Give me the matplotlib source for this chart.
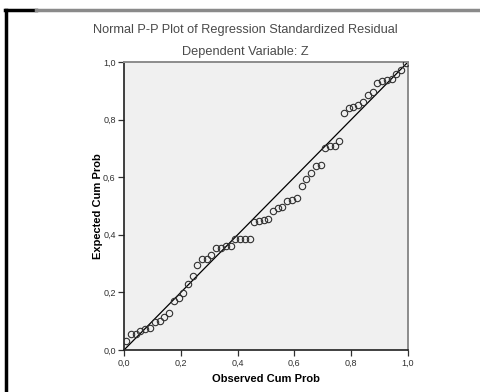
import matplotlib
matplotlib.use("Agg")
import matplotlib.pyplot as plt
from matplotlib.lines import Line2D

# observed cum prob (x) and expected cum prob (y)
obs_prob = [0.008, 0.025, 0.042, 0.058, 0.075, 0.092, 0.108, 0.125, 0.142, 0.158,
            0.175, 0.192, 0.208, 0.225, 0.242, 0.258, 0.275, 0.292, 0.308, 0.325,
            0.342, 0.358, 0.375, 0.392, 0.408, 0.425, 0.442, 0.458, 0.475, 0.492,
            0.508, 0.525, 0.542, 0.558, 0.575, 0.592, 0.608, 0.625, 0.642, 0.658,
            0.675, 0.692, 0.708, 0.725, 0.742, 0.758, 0.775, 0.792, 0.808, 0.825,
            0.842, 0.858, 0.875, 0.892, 0.908, 0.925, 0.942, 0.958, 0.975, 0.992]
exp_prob = [0.032, 0.057, 0.057, 0.066, 0.072, 0.075, 0.097, 0.100, 0.116, 0.127,
            0.171, 0.182, 0.199, 0.228, 0.256, 0.296, 0.316, 0.316, 0.331, 0.355,
            0.355, 0.361, 0.362, 0.385, 0.385, 0.385, 0.385, 0.445, 0.449, 0.451,
            0.454, 0.484, 0.494, 0.497, 0.517, 0.522, 0.528, 0.570, 0.593, 0.613,
            0.639, 0.641, 0.701, 0.707, 0.707, 0.727, 0.822, 0.839, 0.844, 0.851,
            0.862, 0.885, 0.897, 0.928, 0.935, 0.937, 0.940, 0.957, 0.971, 0.997]
ticks = [0.0, 0.2, 0.4, 0.6, 0.8, 1.0]
tick_labels = ['0,0', '0,2', '0,4', '0,6', '0,8', '1,0']

plt.rcParams['font.family'] = ['Liberation Sans', 'DejaVu Sans']

fig = plt.figure(figsize=(4.81, 3.92), dpi=100)
fig.patch.set_facecolor('white')

# frame of the screenshot: black left edge and top rule
fig.add_artist(Line2D([6/481, 6/481], [0, 1 - 10/392], color='black', lw=2.5,
                      transform=fig.transFigure))
fig.add_artist(Line2D([5/481, 36/481], [1 - 10/392, 1 - 10/392], color='black', lw=2.5,
                      transform=fig.transFigure))
fig.add_artist(Line2D([36/481, 1], [1 - 10/392, 1 - 10/392], color='#8a8a8a', lw=2.5,
                      transform=fig.transFigure))

ax = fig.add_axes([124/481, 42/392, 284/481, 288/392])
ax.set_facecolor('#f0f0f0')
ax.plot([0, 1], [0, 1], color='black', lw=0.9, zorder=2)
ax.plot(obs_prob, exp_prob, 'o', mfc='none', mec='#303030', ms=4.6, mew=0.8, zorder=3)
ax.set_xlim(0, 1)
ax.set_ylim(0, 1)
ax.set_xticks(ticks)
ax.set_yticks(ticks)
ax.set_xticklabels(tick_labels)
ax.set_yticklabels(tick_labels)
ax.tick_params(direction='out', length=4, width=0.9, colors='#303030',
               labelsize=6.5, pad=2)
for s in ['left', 'bottom']:
    ax.spines[s].set_color('#202020')
    ax.spines[s].set_linewidth(1.2)
for s in ['top', 'right']:
    ax.spines[s].set_color('#8c8c8c')
    ax.spines[s].set_linewidth(1.4)

ax.set_xlabel('Observed Cum Prob', fontsize=8, fontweight='bold', labelpad=5)
ax.set_ylabel('Expected Cum Prob', fontsize=8, fontweight='bold', labelpad=0)

fig.text(245/481, 1 - 30/392,
         'Normal P-P Plot of Regression Standardized Residual',
         ha='center', va='center', fontsize=9.2, color='#4a4a4a')
fig.text(245/481, 1 - 52/392, 'Dependent Variable: Z',
         ha='center', va='center', fontsize=9.2, color='#4a4a4a')

fig.savefig('out.png', dpi=100)
